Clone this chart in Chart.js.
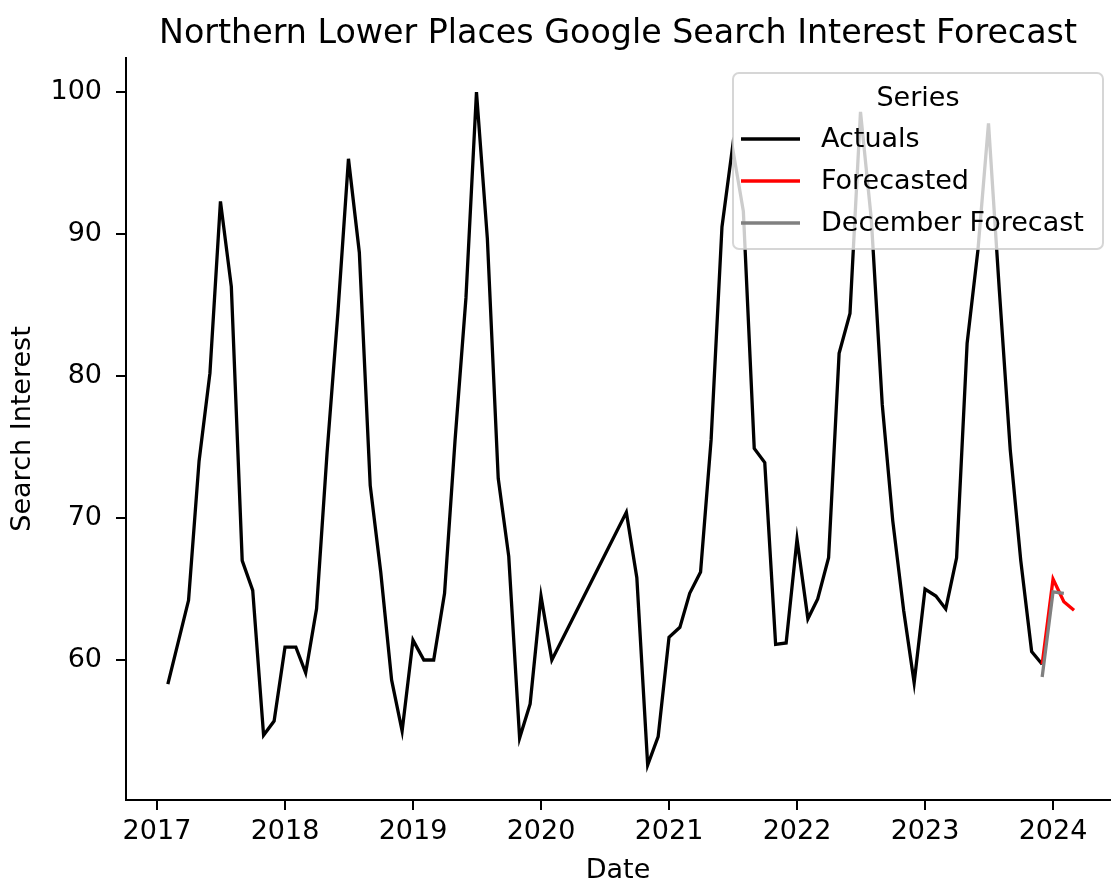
<!DOCTYPE html>
<html>
<head>
<meta charset="utf-8">
<script src="https://cdn.jsdelivr.net/npm/chart.js@4.4.1/dist/chart.umd.min.js"></script>
<style>
  html, body { margin: 0; padding: 0; background: #fff; }
</style>
</head>
<body>
<canvas id="myChart" width="1111" height="881"></canvas>
<script>
// monthly search interest
const actualMonths = [
  '2017-02','2017-04','2017-05','2017-06','2017-07','2017-08','2017-09','2017-10','2017-11','2017-12',
  '2018-01','2018-02','2018-03','2018-04','2018-05','2018-06','2018-07','2018-08','2018-09','2018-10','2018-11','2018-12',
  '2019-01','2019-02','2019-03','2019-04','2019-05','2019-06','2019-07','2019-08','2019-09','2019-10','2019-11','2019-12',
  '2020-01','2020-02','2020-09','2020-10','2020-11','2020-12',
  '2021-01','2021-02','2021-03','2021-04','2021-05','2021-06','2021-07','2021-08','2021-09','2021-10','2021-11','2021-12',
  '2022-01','2022-02','2022-03','2022-04','2022-05','2022-06','2022-07','2022-08','2022-09','2022-10','2022-11','2022-12',
  '2023-01','2023-02','2023-03','2023-04','2023-05','2023-06','2023-07','2023-08','2023-09','2023-10','2023-11','2023-12'
];
const actualValues = [
  58.3, 64.2, 74.0, 80.2, 92.3, 86.3, 67.0, 64.9, 54.7, 55.7,
  60.9, 60.9, 59.1, 63.6, 74.6, 84.5, 95.3, 88.7, 72.3, 66.2, 58.6, 55.0,
  61.4, 60.0, 60.0, 64.7, 75.5, 85.5, 100.0, 89.7, 72.8, 67.3, 54.5, 56.9,
  64.5, 60.0, 70.4, 65.8, 52.6, 54.6,
  61.6, 62.3, 64.7, 66.2, 75.5, 90.5, 96.1, 91.6, 74.9, 73.9, 61.1, 61.2,
  68.5, 62.9, 64.3, 67.2, 81.6, 84.4, 98.6, 91.0, 78.0, 69.8, 63.5, 58.4,
  65.0, 64.5, 63.6, 67.2, 82.3, 88.9, 97.8, 86.0, 74.8, 67.0, 60.6, 59.7
];
const forecastMonths = ['2023-12', '2024-01', '2024-02', '2024-03'];
const forecastValues = [59.7, 65.7, 64.1, 63.5];
const decemberMonths = ['2023-12', '2024-01', '2024-02'];
const decemberValues = [58.8, 64.8, 64.7];

const seriesNames = ['Actuals', 'Forecasted', 'December Forecast'];
const seriesColors = ['#000000', '#ff0000', '#808080'];
const yearTicks = [2017, 2018, 2019, 2020, 2021, 2022, 2023, 2024];
const interestTicks = [60, 70, 80, 90, 100];

Chart.defaults.font.family = '"DejaVu Sans", sans-serif';
Chart.defaults.color = '#000';

// "2019-07" -> 2019.496 (fraction of the year by days)
function toYear(ym) {
  const [y, m] = ym.split('-').map(Number);
  const start = Date.UTC(y, 0, 1);
  const next = Date.UTC(y + 1, 0, 1);
  return y + (Date.UTC(y, m - 1, 1) - start) / (next - start);
}

function points(months, values) {
  return months.map((m, i) => ({ x: toYear(m), y: values[i] }));
}

function lineSet(i, months, values, order) {
  return {
    label: seriesNames[i],
    data: points(months, values),
    borderColor: seriesColors[i],
    backgroundColor: seriesColors[i],
    borderWidth: 3.3,
    pointRadius: 0,
    tension: 0,
    fill: false,
    order: order
  };
}

// matplotlib-like legend box in the upper right of the plot
const legendBox = {
  id: 'legendBox',
  afterDatasetsDraw(chart) {
    const ctx = chart.ctx;
    const area = chart.chartArea;
    const w = 370, h = 176;
    const x = area.right - 7 - w;
    const y = area.top + 15;
    ctx.save();
    ctx.beginPath();
    ctx.roundRect(x, y, w, h, 6);
    ctx.fillStyle = 'rgba(255,255,255,0.8)';
    ctx.fill();
    ctx.strokeStyle = 'rgba(204,204,204,0.8)';
    ctx.lineWidth = 2;
    ctx.stroke();

    ctx.fillStyle = '#000';
    ctx.font = '27px "DejaVu Sans"';
    ctx.textAlign = 'center';
    ctx.textBaseline = 'middle';
    ctx.fillText('Series', x + w / 2, y + 26);

    ctx.textAlign = 'left';
    chart.data.datasets.forEach((ds, i) => {
      const ly = y + 66 + i * 42;
      ctx.beginPath();
      ctx.moveTo(x + 8, ly);
      ctx.lineTo(x + 67, ly);
      ctx.strokeStyle = ds.borderColor;
      ctx.lineWidth = 3.5;
      ctx.stroke();
      ctx.fillStyle = '#000';
      ctx.fillText(ds.label, x + 88, ly + 1);
    });
    ctx.restore();
  }
};

new Chart('myChart', {
  type: 'line',
  data: {
    datasets: [
      lineSet(0, actualMonths, actualValues, 2),
      lineSet(1, forecastMonths, forecastValues, 1),
      lineSet(2, decemberMonths, decemberValues, 0)
    ]
  },
  options: {
    responsive: false,
    animation: false,
    layout: { padding: { top: 0, right: 1, bottom: 0, left: 0 } },
    plugins: {
      legend: { display: false },
      tooltip: { enabled: false },
      title: {
        display: true,
        text: 'Northern Lower Places Google Search Interest Forecast',
        fullSize: false,
        color: '#000',
        font: { size: 33.3, weight: 'normal' },
        padding: { top: 14, bottom: 4 }
      }
    },
    scales: {
      x: {
        type: 'linear',
        min: 2016.758,
        max: 2024.445,
        afterBuildTicks: s => { s.ticks = yearTicks.map(v => ({ value: v })); },
        afterFit: s => { s.height = 81; },
        ticks: {
          callback: v => String(v),
          font: { size: 27 },
          color: '#000',
          padding: 6,
          maxRotation: 0,
          autoSkip: false
        },
        grid: { drawOnChartArea: false, drawTicks: true, tickLength: 10, lineWidth: 2, tickColor: '#000' },
        border: { display: true, color: '#000', width: 2 },
        title: { display: true, text: 'Date', font: { size: 27, lineHeight: 1 }, color: '#000', padding: { top: 0, bottom: -3 } }
      },
      y: {
        type: 'linear',
        min: 50.14,
        max: 102.4,
        afterBuildTicks: s => { s.ticks = interestTicks.map(v => ({ value: v })); },
        afterFit: s => { s.width = 126; },
        ticks: {
          callback: v => String(v),
          font: { size: 27 },
          color: '#000',
          padding: 14,
          autoSkip: false
        },
        grid: { drawOnChartArea: false, drawTicks: true, tickLength: 10, lineWidth: 2, tickColor: '#000' },
        border: { display: true, color: '#000', width: 2 },
        title: { display: true, text: 'Search Interest', font: { size: 27 }, color: '#000', padding: { top: 7, bottom: 0 } }
      }
    }
  },
  plugins: [legendBox]
});
</script>
</body>
</html>
